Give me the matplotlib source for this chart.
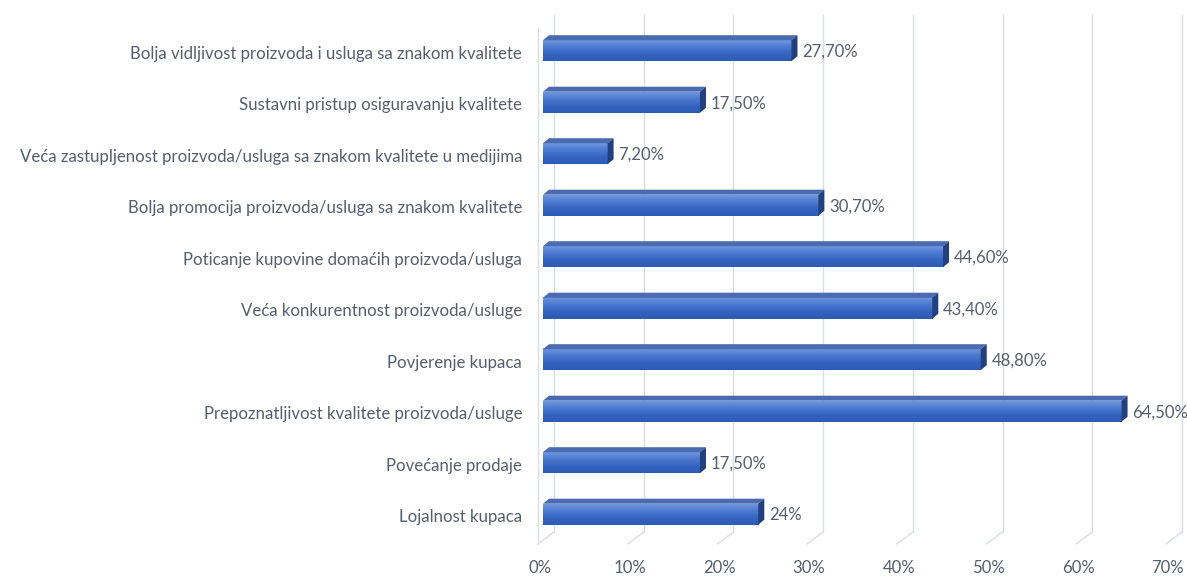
import numpy as np
import matplotlib.pyplot as plt
from matplotlib.patches import Polygon
from matplotlib.colors import LinearSegmentedColormap

# podaci (od vrha prema dnu)
categories = [
    "Bolja vidljivost proizvoda i usluga sa znakom kvalitete",
    "Sustavni pristup osiguravanju kvalitete",
    "Veća zastupljenost proizvoda/usluga sa znakom kvalitete u medijima",
    "Bolja promocija proizvoda/usluga sa znakom kvalitete",
    "Poticanje kupovine domaćih proizvoda/usluga",
    "Veća konkurentnost proizvoda/usluge",
    "Povjerenje kupaca",
    "Prepoznatljivost kvalitete proizvoda/usluge",
    "Povećanje prodaje",
    "Lojalnost kupaca",
]
values = [27.7, 17.5, 7.2, 30.7, 44.6, 43.4, 48.8, 64.5, 17.5, 24.0]
value_labels = ["27,70%", "17,50%", "7,20%", "30,70%", "44,60%",
                "43,40%", "48,80%", "64,50%", "17,50%", "24%"]
ticks = [0, 10, 20, 30, 40, 50, 60, 70]
tick_labels = ["0%", "10%", "20%", "30%", "40%", "50%", "60%", "70%"]

W, H = 1187, 577
fig = plt.figure(figsize=(W / 100, H / 100), dpi=100)

# prednja ravnina stupaca: 0% na x=543px, 8.97 px po postotku
px_per_pct = 8.97
x0_px = 543
top_px, bot_px = 15, 545
c0_px, step_px = 50.7, 51.5
ax = fig.add_axes([x0_px / W, (H - bot_px) / H,
                   70 * px_per_pct / W, (bot_px - top_px) / H])
ax.set_xlim(0, 70)
ax.set_ylim((bot_px - c0_px) / step_px, (top_px - c0_px) / step_px)
ax.axis("off")

ux = 1 / px_per_pct      # jedan piksel u x jedinicama
uy = 1 / step_px         # jedan piksel u y jedinicama


def ypx(p):
    return (p - c0_px) / step_px


grid_col = "#D9DDE6"
txt_col = "#565E6C"
font = "Lato"
fs = 12.1

# zid i pod (3D izgled)
back_dx = 11 * ux
front_dx = -5 * ux
for t in ticks:
    ax.plot([t + back_dx, t + back_dx], [ypx(15), ypx(532)],
            color=grid_col, lw=1, clip_on=False, zorder=1)
    ax.plot([t + back_dx, t + front_dx], [ypx(532), ypx(544)],
            color=grid_col, lw=1, clip_on=False, zorder=1)
ax.plot([front_dx, front_dx], [ypx(28), ypx(544)],
        color=grid_col, lw=1, clip_on=False, zorder=1)

for t, lab in zip(ticks, tick_labels):
    ax.text(t - 3 * ux, ypx(568), lab, ha="center", va="center",
            fontsize=fs, color=txt_col, family=font)

# stupci
cmap = LinearSegmentedColormap.from_list(
    "bar", ["#7096DE", "#4C7AD0", "#3463C0", "#2D5AB3"])
grad = np.linspace(0, 1, 64).reshape(-1, 1)
bh = 21 * uy
ddx, ddy = 6 * ux, 5 * uy
for i, (v, vl, cat) in enumerate(zip(values, value_labels, categories)):
    top = i - bh / 2
    bot = i + bh / 2
    ax.imshow(grad, cmap=cmap, aspect="auto", extent=(0, v, bot, top),
              interpolation="bilinear", zorder=3)
    ax.add_patch(Polygon([(0, top), (v, top), (v + ddx, top - ddy),
                          (ddx, top - ddy)], closed=True,
                         facecolor="#4A6BB0", edgecolor="none", zorder=3))
    ax.add_patch(Polygon([(v, top), (v + ddx, top - ddy),
                          (v + ddx, bot - ddy), (v, bot)], closed=True,
                         facecolor="#223F7E", edgecolor="none", zorder=3))
    ax.text(v + ddx + 5 * ux, i + 1 * uy, vl, ha="left", va="center",
            fontsize=fs, color=txt_col, family=font)
    ax.text(-21 * ux, i + 3 * uy, cat, ha="right", va="center",
            fontsize=fs, color=txt_col, family=font)

ax.set_xlim(0, 70)
ax.set_ylim((bot_px - c0_px) / step_px, (top_px - c0_px) / step_px)

fig.savefig("out.png", dpi=100, facecolor="white")
